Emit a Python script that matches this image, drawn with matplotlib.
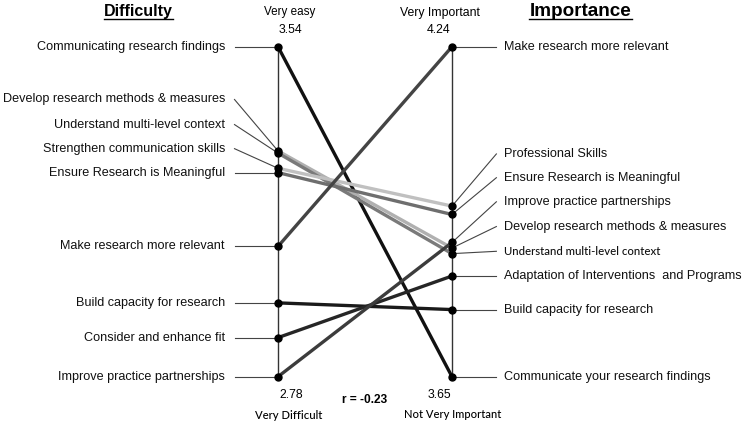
import matplotlib.pyplot as plt

# Difficulty (left axis) and Importance (right axis) ratings
left_labels = ['Communicating research findings', 'Develop research methods & measures',
               'Understand multi-level context', 'Strengthen communication skills',
               'Ensure Research is Meaningful', 'Make research more relevant',
               'Build capacity for research', 'Consider and enhance fit',
               'Improve practice partnerships']
right_labels = ['Communicate your research findings', 'Develop research methods & measures',
                'Understand multi-level context', 'Professional Skills',
                'Ensure Research is Meaningful', 'Make research more relevant',
                'Build capacity for research', 'Adaptation of Interventions  and Programs',
                'Improve practice partnerships']
difficulty = [3.54, 3.30, 3.295, 3.26, 3.25, 3.08, 2.95, 2.87, 2.78]
importance = [3.65, 3.88, 3.87, 3.955, 3.94, 4.24, 3.77, 3.83, 3.89]
line_colors = ['#111111', '#b0b0b0', '#7a7a7a', '#c0c0c0', '#6e6e6e',
               '#444444', '#1a1a1a', '#262626', '#3c3c3c']

d_min, d_max = 2.78, 3.54
i_min, i_max = 3.65, 4.24

# label text positions (normalised y), where labels are offset from their dot
left_label_y = [None, 0.840, 0.764, 0.691, None, None, None, None, None]
right_label_y = [None, 0.455, 0.380, 0.675, 0.603, None, None, None, 0.530]

def norm_d(v):
    return (v - d_min) / (d_max - d_min)

def norm_i(v):
    return (v - i_min) / (i_max - i_min)

fig = plt.figure(figsize=(7.42, 4.26), dpi=100)
ax = fig.add_axes([0, 0, 1, 1])
ax.set_xlim(-278 / 174, (742 - 278) / 174)
ax.set_ylim(-0.1494, 1.1415)
ax.axis('off')

# vertical axes
ax.plot([0, 0], [0, 1], color='#333333', lw=1.0, zorder=1)
ax.plot([1, 1], [0, 1], color='#333333', lw=1.0, zorder=1)

for i in range(len(difficulty)):
    yl = norm_d(difficulty[i])
    yr = norm_i(importance[i])
    ax.plot([0, 1], [yl, yr], color=line_colors[i], lw=2.4, zorder=2,
            solid_capstyle='round')
    ax.plot([0, 1], [yl, yr], 'o', color='black', ms=5, zorder=4)

    # left label and leader
    ly = left_label_y[i] if left_label_y[i] is not None else yl
    ax.plot([-0.25, 0], [ly, yl], color='#444444', lw=0.8, zorder=1)
    ax.text(-0.305, ly, left_labels[i], ha='right', va='center', fontsize=9.1,
            family='Liberation Sans', color='#111111')

    # right label and leader
    ry = right_label_y[i] if right_label_y[i] is not None else yr
    ax.plot([1, 1.255], [yr, ry], color='#444444', lw=0.8, zorder=1)
    if right_labels[i] == 'Understand multi-level context':
        ax.text(1.3, ry, right_labels[i], ha='left', va='center', fontsize=8.2,
                family='Lato', fontweight='medium', color='#111111')
    else:
        ax.text(1.3, ry, right_labels[i], ha='left', va='center', fontsize=9.1,
                family='Liberation Sans', color='#111111')

# headers
ax.text(-0.80, 1.107, 'Difficulty', ha='center', va='center', fontsize=11.5,
        fontweight='bold', family='Liberation Sans')
ax.plot([-0.998, -0.602], [1.083, 1.083], color='black', lw=1.0)
ax.text(1.738, 1.108, 'Importance', ha='center', va='center', fontsize=13.6,
        fontweight='bold', family='Liberation Sans')
ax.plot([1.443, 2.034], [1.085, 1.085], color='black', lw=1.0)

ax.text(0.07, 1.105, 'Very easy', ha='center', va='center', fontsize=8.4,
        family='Liberation Sans')
ax.text(0.07, 1.050, f'{d_max:.2f}', ha='center', va='center', fontsize=8.8,
        family='Liberation Sans')
ax.text(0.93, 1.102, 'Very Important', ha='center', va='center', fontsize=8.8,
        family='Liberation Sans')
ax.text(0.925, 1.050, f'{i_max:.2f}', ha='center', va='center', fontsize=8.8,
        family='Liberation Sans')

ax.text(0.075, -0.0555, f'{d_min:.2f}', ha='center', va='center', fontsize=8.8,
        family='Liberation Sans')
ax.text(0.063, -0.119, 'Very Difficult', ha='center', va='center', fontsize=8.1,
        family='Lato', fontweight='medium')
ax.text(0.928, -0.0555, f'{i_min:.2f}', ha='center', va='center', fontsize=8.8,
        family='Liberation Sans')
ax.text(1.006, -0.116, 'Not Very Important', ha='center', va='center', fontsize=8.0,
        family='Lato', fontweight='medium')
ax.text(0.497, -0.07, 'r = -0.23', ha='center', va='center', fontsize=8.6,
        fontweight='bold', family='Liberation Sans')

fig.savefig('out.png', dpi=100)
